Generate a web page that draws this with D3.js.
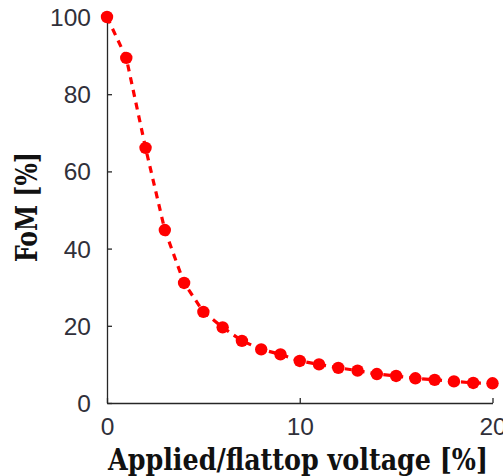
<!DOCTYPE html>
<html><head><meta charset="utf-8">
<script src="https://cdn.jsdelivr.net/npm/d3@7"></script>
<style>body{margin:0;background:#fff;} svg{display:block;}</style>
</head><body>
<script>
const xValues = [0,1,2,3,4,5,6,7,8,9,10,11,12,13,14,15,16,17,18,19,20];
const fomValues = [100,89.4,66.1,44.8,31.1,23.6,19.6,16.1,13.9,12.6,10.9,10.0,9.1,8.4,7.5,7.0,6.4,6.0,5.6,5.2,5.1];
const xTicks = [0,10,20];
const yTicks = [0,20,40,60,80,100];

const W=503,H=476;
const svg=d3.select("body").append("svg").attr("width",W).attr("height",H);
const x=d3.scaleLinear().domain([0,20]).range([107,492.5]);
const y=d3.scaleLinear().domain([0,100]).range([403,17]);

const axisColor="#262626";
const gx=svg.append("g").attr("transform","translate(0,403)")
  .call(d3.axisBottom(x).tickValues(xTicks).tickSizeInner(-5).tickSizeOuter(0).tickPadding(14.5));
const gy=svg.append("g").attr("transform","translate(107,0)")
  .call(d3.axisLeft(y).tickValues(yTicks).tickSizeInner(-5).tickSizeOuter(0).tickPadding(16));
[gx,gy].forEach(g=>{
  g.select(".domain").attr("stroke",axisColor).attr("stroke-width",1.3);
  g.selectAll(".tick line").attr("stroke",axisColor).attr("stroke-width",1.3);
  g.selectAll("text").attr("font-family","Liberation Sans, Arial, sans-serif").attr("font-size",24.5).attr("fill","#30303a");
});
gx.selectAll("text").attr("dy","0.71em");
gy.selectAll("text").attr("dy","0.35em");

const pts=xValues.map((v,i)=>[v,fomValues[i]]);
svg.append("path").datum(pts)
  .attr("d",d3.line().x(d=>x(d[0])).y(d=>y(d[1])))
  .attr("fill","none").attr("stroke","#ff0000").attr("stroke-width",3.2)
  .attr("stroke-dasharray","7,6");
svg.append("g").selectAll("circle").data(pts).join("circle")
  .attr("cx",d=>x(d[0])).attr("cy",d=>y(d[1])).attr("r",6.2).attr("fill","#ff0000");

const labelFont="DejaVu Serif Condensed, DejaVu Serif, serif";
svg.append("text").attr("x",298).attr("y",470).attr("text-anchor","middle")
  .attr("font-family",labelFont).attr("font-weight","bold").attr("font-size",29)
  .attr("textLength",380).attr("lengthAdjust","spacingAndGlyphs")
  .attr("fill","#111").text("Applied/flattop voltage [%]");
svg.append("text").attr("transform","translate(37,207) rotate(-90)").attr("text-anchor","middle")
  .attr("font-family",labelFont).attr("font-weight","bold").attr("font-size",29)
  .attr("textLength",110).attr("lengthAdjust","spacingAndGlyphs")
  .attr("fill","#111").text("FoM [%]");
</script>
</body></html>
